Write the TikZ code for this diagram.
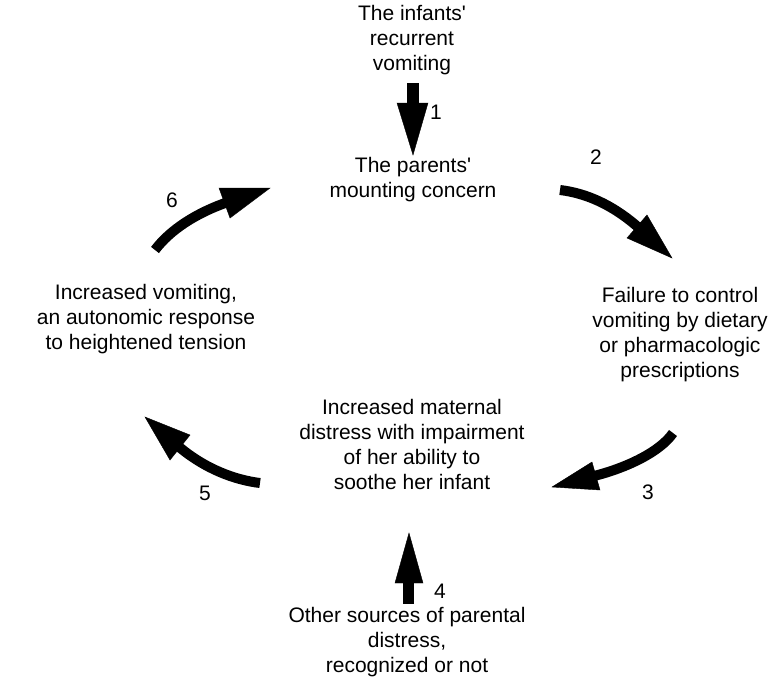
\documentclass[tikz,border=0pt]{standalone}
\usepackage{fontspec}
\setmainfont{Liberation Sans}
\begin{document}
\begin{tikzpicture}[x=1pt,y=-1pt,
  txt/.style={align=center,font=\fontsize{21}{25}\selectfont,inner sep=0pt,anchor=north},
  num/.style={font=\fontsize{21}{25}\selectfont,inner sep=0pt},
  shaft/.style={line width=10pt,draw=black},
  head/.style={fill=black,draw=black,line join=miter}]
\useasboundingbox (0,0) rectangle (769,681);
% texts
\node[txt] (top) at (412,5) {The infants\textquotesingle\\recurrent\\vomiting};
\node[txt] (concern) at (413,157) {The parents\textquotesingle\\mounting concern};
\node[txt] (failure) at (680,287) {Failure to control\\vomiting by dietary\\or pharmacologic\\prescriptions};
\node[txt] (vomit) at (146,284) {Increased vomiting,\\an autonomic response\\to heightened tension};
\node[txt] (maternal) at (412,399) {Increased maternal\\distress with impairment\\of her ability to\\soothe her infant};
\node[txt] (other) at (407,607) {Other sources of parental\\distress,\\recognized or not};
% numbers
\node[num] (n1) at (436,112) {1};
\node[num] (n2) at (596,157) {2};
\node[num] (n3) at (648,492) {3};
\node[num] (n4) at (440,591) {4};
\node[num] (n5) at (205,493) {5};
\node[num] (n6) at (172,200) {6};
% arrow 1
\fill (407,83) rectangle (419,106);
\path[head] (397,103) -- (428,103) -- (413,155) -- cycle;
% arrow 4
\fill (403,580) rectangle (414,604);
\path[head] (395,583) -- (423,583) -- (409,533) -- cycle;
% arrow 6
\draw[shaft] (155,250) .. controls (170,230) and (196,213) .. (228,202);
\path[head] (219,188) -- (270,188) -- (230,218) -- cycle;
% arrow 2
\draw[shaft] (560,190) .. controls (585,193) and (612,204) .. (639,228);
\path[head] (647,215) -- (672,258) -- (627,238) -- cycle;
% arrow 3
\draw[shaft] (673,433) .. controls (660,452) and (626,468) .. (594,476);
\path[head] (592,462) -- (552,487) -- (600,490) -- cycle;
% arrow 5
\draw[shaft] (260,483) .. controls (235,480) and (205,469) .. (178,446);
\path[head] (190,435) -- (145,417) -- (170,460) -- cycle;
\end{tikzpicture}
\end{document}
